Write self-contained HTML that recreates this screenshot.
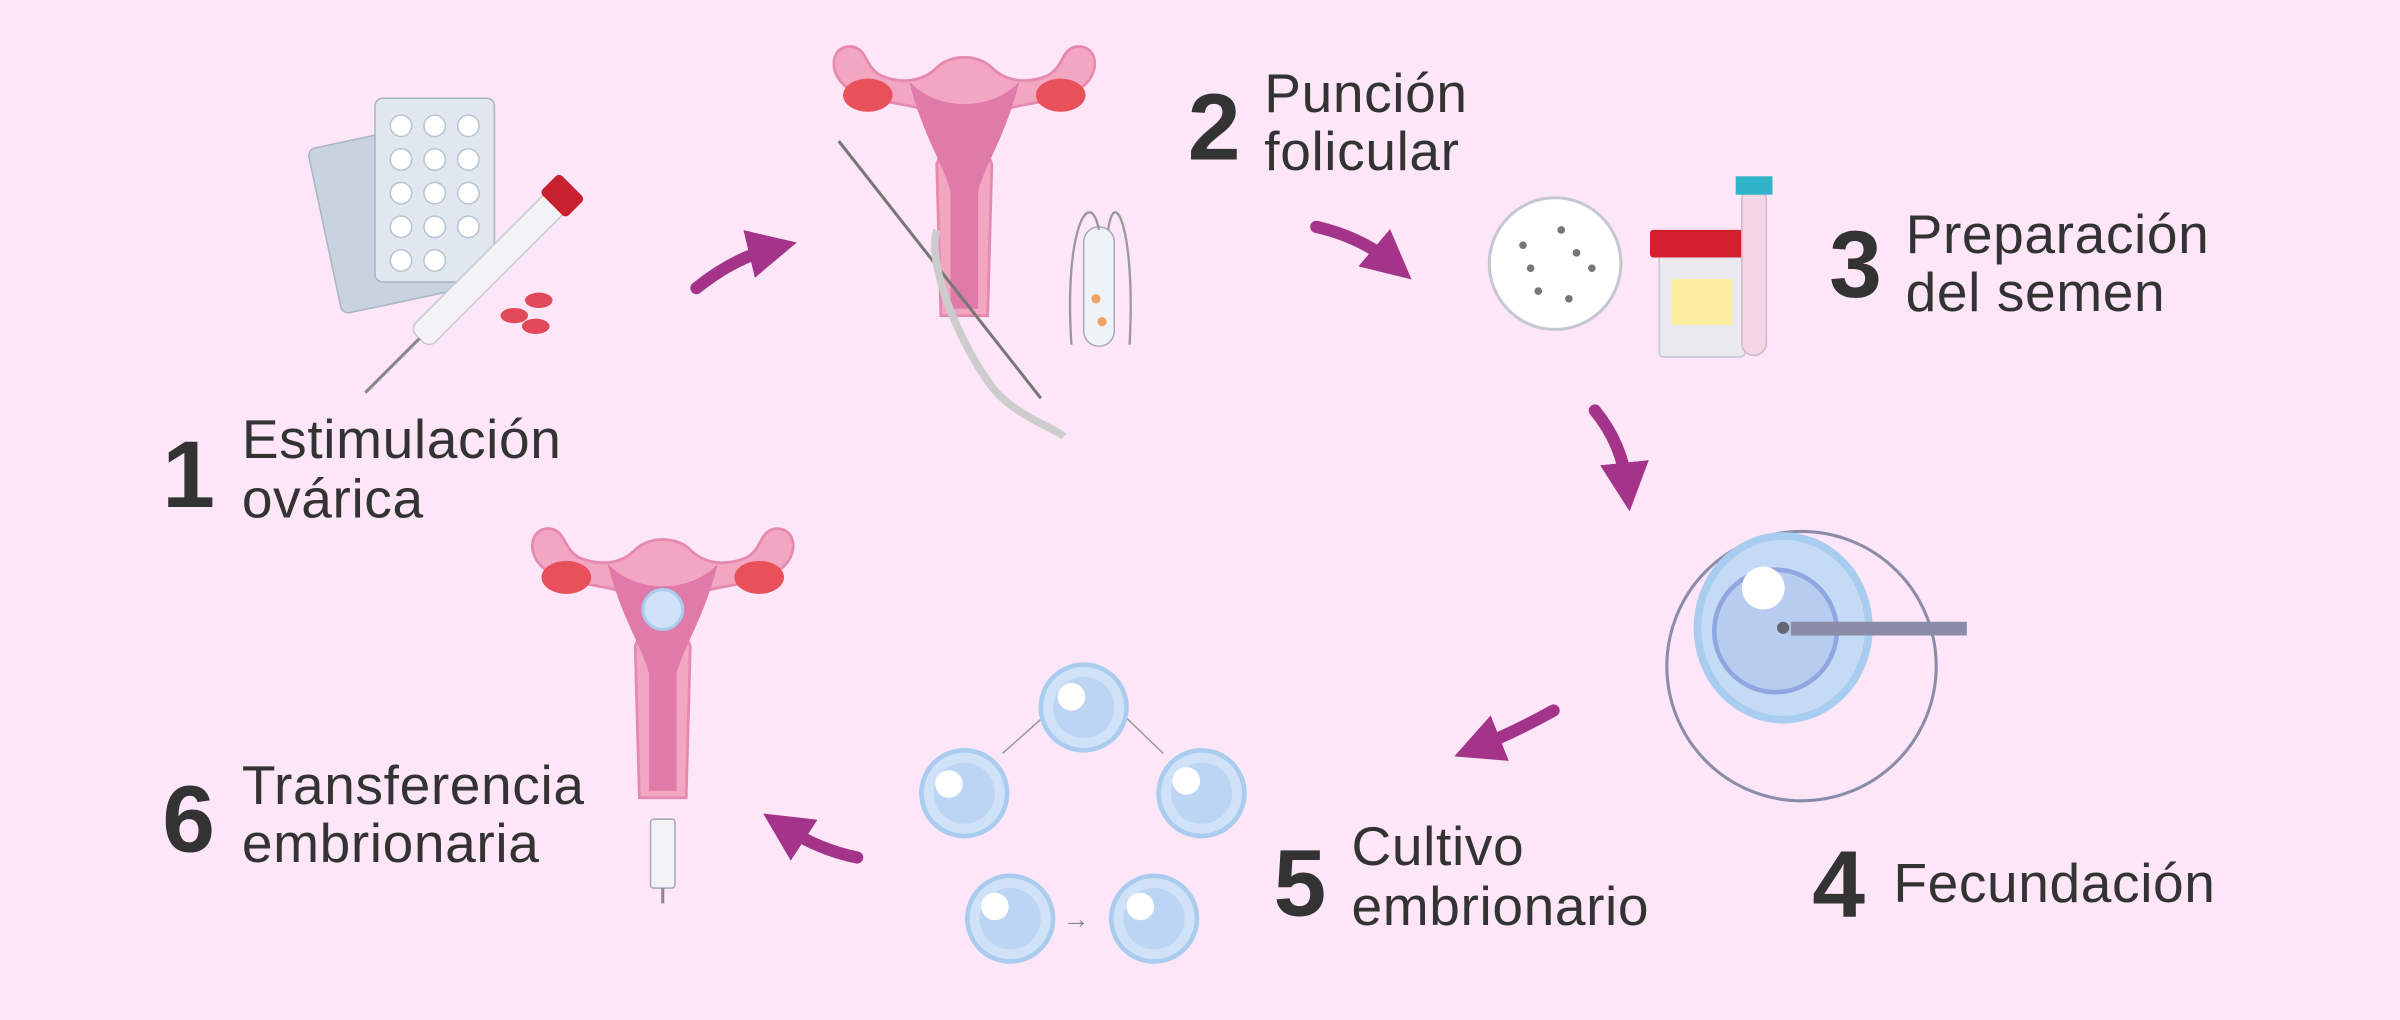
<!DOCTYPE html>
<html><head><meta charset="utf-8"><style>
html,body{margin:0;padding:0;background:#fde6f7;}
svg{display:block}
text{font-family:"Liberation Sans","DejaVu Sans",sans-serif;fill:#333;}
.n{font-weight:bold;font-size:62px}
.t{font-size:36px;letter-spacing:0.4px}
</style></head><body>
<svg width="2400" height="1020" viewBox="0 0 1568 666" xmlns="http://www.w3.org/2000/svg">
<defs>
<marker id="ah" markerWidth="4" markerHeight="4" refX="2" refY="2" orient="auto" markerUnits="strokeWidth">
<path d="M0,0 L4,2 L0,4 Z" fill="#a3348a"/></marker>
<g id="ut">
 <path d="M-8,0 C-40,-20 -70,-10 -88,-28 C-100,-40 -95,-58 -80,-55 C-70,-52 -72,-40 -60,-34 C-45,-28 -30,-30 -20,-40 C-10,-50 10,-50 20,-40 C30,-30 45,-28 60,-34 C72,-40 70,-52 80,-55 C95,-58 100,-40 88,-28 C70,-10 40,-20 8,0 L20,30 L17,140 L-17,140 L-20,30 Z" fill="#f2a6c2" stroke="#e58aae" stroke-width="2"/>
 <path d="M-40,-30 C-20,-8 20,-8 40,-30 C30,10 15,30 10,50 L10,135 L-10,135 L-10,50 C-15,30 -30,10 -40,-30Z" fill="#e07aa8"/>
 <ellipse cx="-70" cy="-20" rx="18" ry="12" fill="#e8505a"/>
 <ellipse cx="70" cy="-20" rx="18" ry="12" fill="#e8505a"/>
</g>
<g id="emb"><circle r="28" fill="#cfe2f8" stroke="#a9ccef" stroke-width="3"/><circle r="20" fill="#bcd5f3"/></g>
</defs>
<rect width="1568" height="666" fill="#fde6f7"/>

<!-- step 1 illustration -->
<g transform="rotate(-12 265 135)"><rect x="210" y="85" width="80" height="110" rx="5" fill="#c9d3df" stroke="#aab6c4"/></g>
<rect x="245" y="64" width="78" height="120" rx="5" fill="#dfe7ef" stroke="#aab6c4"/>
<g fill="#fff" stroke="#b9c4d0">
<circle cx="262" cy="82" r="7"/><circle cx="284" cy="82" r="7"/><circle cx="306" cy="82" r="7"/>
<circle cx="262" cy="104" r="7"/><circle cx="284" cy="104" r="7"/><circle cx="306" cy="104" r="7"/>
<circle cx="262" cy="126" r="7"/><circle cx="284" cy="126" r="7"/><circle cx="306" cy="126" r="7"/>
<circle cx="262" cy="148" r="7"/><circle cx="284" cy="148" r="7"/><circle cx="306" cy="148" r="7"/>
<circle cx="262" cy="170" r="7"/><circle cx="284" cy="170" r="7"/></g>
<g transform="rotate(-45 320 175)"><rect x="255" y="166" width="130" height="18" rx="6" fill="#f4f4f7" stroke="#c8c8d2"/><rect x="378" y="163" width="18" height="24" rx="3" fill="#c8202e"/><line x1="255" y1="175" x2="205" y2="175" stroke="#888" stroke-width="2"/></g>
<ellipse cx="352" cy="196" rx="9" ry="5" fill="#e24a5a"/><ellipse cx="336" cy="206" rx="9" ry="5" fill="#e24a5a"/><ellipse cx="350" cy="213" rx="9" ry="5" fill="#e24a5a"/>

<!-- step 2 illustration -->
<use href="#ut" transform="translate(630,80) scale(0.9)"/>
<line x1="548" y1="92" x2="680" y2="260" stroke="#777" stroke-width="2"/>
<path d="M612,150 C605,175 630,230 650,255 C665,272 690,280 695,285" fill="none" stroke="#ccc" stroke-width="5"/>
<rect x="708" y="148" width="20" height="78" rx="10" fill="#eef3f8" stroke="#aab"/>
<circle cx="716" cy="195" r="3" fill="#f0a060"/><circle cx="720" cy="210" r="3" fill="#f0a060"/>
<path d="M700,225 C695,150 712,120 718,150 M738,225 C742,150 728,120 724,150" fill="none" stroke="#999" stroke-width="1.5"/>

<!-- step 3 illustration -->
<circle cx="1016" cy="172" r="43" fill="#fff" stroke="#c5c7d2" stroke-width="2"/>
<g fill="#777"><circle cx="995" cy="160" r="2.5"/><circle cx="1020" cy="150" r="2.5"/><circle cx="1040" cy="175" r="2.5"/><circle cx="1005" cy="190" r="2.5"/><circle cx="1025" cy="195" r="2.5"/><circle cx="1030" cy="165" r="2.5"/><circle cx="1000" cy="175" r="2.5"/></g>
<rect x="1084" y="165" width="56" height="68" rx="3" fill="#e9e9ef" stroke="#c8c8d2"/>
<rect x="1092" y="182" width="40" height="30" fill="#fbeea0"/>
<rect x="1078" y="150" width="68" height="18" rx="2" fill="#d3202e"/>
<rect x="1138" y="122" width="16" height="110" rx="8" fill="#f3d7e4" stroke="#d0b8c8"/>
<rect x="1134" y="115" width="24" height="12" fill="#2fb3c9"/>

<!-- step 4 -->
<circle cx="1177" cy="435" r="88" fill="none" stroke="#8a8ca8" stroke-width="2"/>
<ellipse cx="1165" cy="410" rx="56" ry="60" fill="#c5dbf5" stroke="#a8cdef" stroke-width="5"/>
<circle cx="1160" cy="412" r="40" fill="#b8ccf0" stroke="#8fa6e0" stroke-width="3"/>
<circle cx="1152" cy="384" r="14" fill="#fff"/>
<rect x="1170" y="406" width="115" height="9" fill="#8a8ca8"/>
<circle cx="1165" cy="410" r="4" fill="#667"/>

<!-- step 5 -->
<path d="M655,492 L682,468 M760,492 L735,468" stroke="#999" fill="none"/>
<use href="#emb" x="708" y="462"/><use href="#emb" x="630" y="518"/><use href="#emb" x="785" y="518"/><use href="#emb" x="660" y="600"/><use href="#emb" x="754" y="600"/>
<circle cx="620" cy="512" r="9" fill="#fff"/><circle cx="650" cy="592" r="9" fill="#fff"/><circle cx="700" cy="455" r="9" fill="#fff"/><circle cx="775" cy="510" r="9" fill="#fff"/><circle cx="745" cy="592" r="9" fill="#fff"/>
<text x="694" y="606" style="font-size:18px;fill:#888">→</text>

<!-- step 6 -->
<use href="#ut" transform="translate(433,395) scale(0.9)"/>
<circle cx="433" cy="398" r="13" fill="#cfe2f8" stroke="#a9ccef" stroke-width="2"/>
<rect x="425" y="535" width="16" height="45" rx="2" fill="#f3f3f6" stroke="#aab"/>
<line x1="433" y1="580" x2="433" y2="590" stroke="#888" stroke-width="2"/>

<!-- arrows -->
<g fill="none" stroke="#a3348a" stroke-width="8" stroke-linecap="round">
<path d="M455,188 Q480,168 505,162" marker-end="url(#ah)"/>
<path d="M860,148 Q890,155 910,172" marker-end="url(#ah)"/>
<path d="M1042,268 Q1060,290 1063,318" marker-end="url(#ah)"/>
<path d="M1015,464 Q990,478 965,488" marker-end="url(#ah)"/>
<path d="M560,560 Q535,555 512,540" marker-end="url(#ah)"/>
</g>

<!-- labels -->
<text class="n" x="106" y="331">1</text><text class="t" x="158" y="299">Estimulación</text><text class="t" x="158" y="338">ovárica</text>
<text class="n" x="776" y="104">2</text><text class="t" x="826" y="73">Punción</text><text class="t" x="826" y="111">folicular</text>
<text class="n" x="1195" y="194">3</text><text class="t" x="1245" y="165">Preparación</text><text class="t" x="1245" y="203">del semen</text>
<text class="n" x="1184" y="599">4</text><text class="t" x="1237" y="589">Fecundación</text>
<text class="n" x="832" y="598">5</text><text class="t" x="883" y="565">Cultivo</text><text class="t" x="883" y="604">embrionario</text>
<text class="n" x="106" y="556">6</text><text class="t" x="158" y="525">Transferencia</text><text class="t" x="158" y="563">embrionaria</text>
</svg>
</body></html>
